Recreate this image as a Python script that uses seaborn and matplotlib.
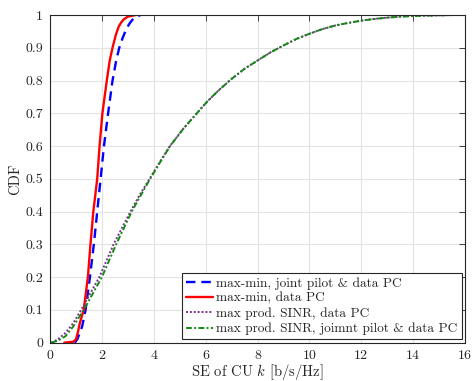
import matplotlib
matplotlib.use("Agg")
import matplotlib.pyplot as plt
import seaborn as sns
import pandas as pd

# CDF curves (SE values, CDF values)
mm_joint_x = [0.95, 1.05, 1.15, 1.24, 1.37, 1.54, 1.69, 1.82, 1.95, 2.08, 2.24, 2.41, 2.55, 2.67, 2.80, 2.93, 3.05, 3.15, 3.30, 3.50]
mm_joint_y = [0.0, 0.01, 0.03, 0.05, 0.10, 0.20, 0.30, 0.40, 0.50, 0.60, 0.70, 0.80, 0.86, 0.90, 0.93, 0.955, 0.972, 0.983, 0.995, 1.0]

mm_data_x = [0.55, 0.90, 1.00, 1.07, 1.15, 1.30, 1.46, 1.56, 1.67, 1.82, 1.91, 2.02, 2.19, 2.30, 2.41, 2.54, 2.65, 2.75, 2.85, 3.00, 3.30]
mm_data_y = [0.0, 0.003, 0.01, 0.03, 0.06, 0.10, 0.20, 0.30, 0.40, 0.50, 0.60, 0.70, 0.80, 0.86, 0.90, 0.94, 0.965, 0.978, 0.987, 0.995, 1.0]

prod_data_x = [0.05, 0.30, 0.60, 0.90, 1.20, 1.55, 1.90, 2.45, 3.10, 3.45, 3.84, 4.22, 4.62, 5.15, 5.66, 6.05, 6.50, 7.00, 7.50, 8.04, 8.50, 9.00, 9.50, 10.04, 10.50, 11.00, 11.50, 12.03, 12.50, 13.00, 13.50, 14.00, 14.50, 15.00, 15.60]
prod_data_y = [0.0, 0.01, 0.03, 0.06, 0.10, 0.15, 0.20, 0.30, 0.40, 0.45, 0.50, 0.55, 0.60, 0.654, 0.70, 0.735, 0.77, 0.805, 0.836, 0.863, 0.886, 0.907, 0.927, 0.944, 0.957, 0.968, 0.976, 0.983, 0.988, 0.992, 0.995, 0.997, 0.998, 0.999, 1.0]

prod_joint_x = [0.05, 0.30, 0.60, 0.90, 1.30, 1.65, 2.00, 2.55, 3.15, 3.50, 3.86, 4.24, 4.63, 5.15, 5.66, 6.05, 6.50, 7.00, 7.50, 8.04, 8.50, 9.00, 9.50, 10.04, 10.50, 11.00, 11.50, 12.03, 12.50, 13.00, 13.50, 14.00, 14.50, 15.00, 15.60]
prod_joint_y = [0.0, 0.006, 0.02, 0.05, 0.10, 0.15, 0.20, 0.30, 0.40, 0.45, 0.50, 0.55, 0.60, 0.654, 0.70, 0.735, 0.77, 0.805, 0.836, 0.863, 0.886, 0.907, 0.927, 0.944, 0.957, 0.968, 0.976, 0.983, 0.988, 0.992, 0.995, 0.997, 0.998, 0.999, 1.0]

labels = ["max-min, joint pilot & data PC",
          "max-min, data PC",
          "max prod. SINR, data PC",
          "max prod. SINR, joimnt pilot & data PC"]
x_ticks = [0, 2, 4, 6, 8, 10, 12, 14, 16]
y_ticks = [0, 0.1, 0.2, 0.3, 0.4, 0.5, 0.6, 0.7, 0.8, 0.9, 1.0]
y_tick_labels = ["0", "0.1", "0.2", "0.3", "0.4", "0.5", "0.6", "0.7", "0.8", "0.9", "1"]

sns.set_style("white")
plt.rcParams["font.family"] = ["cmr10", "DejaVu Serif"]
plt.rcParams["mathtext.fontset"] = "cm"
plt.rcParams["axes.formatter.use_mathtext"] = True

fig = plt.figure(figsize=(4.74, 3.81), dpi=100)
ax = fig.add_axes([0.1055, 0.1005, 0.8755, 0.8601])

styles = [
    dict(color="#0000ff", dashes=(4, 2.5), lw=1.7),
    dict(color="#ff0000", dashes=None, lw=1.7),
    dict(color="#7e2f8e", dashes=(1, 1), lw=1.4),
    dict(color="#138a13", dashes=(3, 1.2, 1, 1.2), lw=1.4),
]
series = [(mm_joint_x, mm_joint_y), (mm_data_x, mm_data_y),
          (prod_data_x, prod_data_y), (prod_joint_x, prod_joint_y)]

for (xs, ys), lab, st in zip(series, labels, styles):
    df = pd.DataFrame({"x": xs, "y": ys})
    sns.lineplot(data=df, x="x", y="y", ax=ax, label=lab, sort=False,
                 estimator=None, color=st["color"], lw=st["lw"])
    if st["dashes"] is not None:
        ax.lines[-1].set_dashes(st["dashes"])

ax.set_xlim(0, 16)
ax.set_ylim(0, 1)
ax.set_xticks(x_ticks)
ax.set_xticklabels([str(t) for t in x_ticks])
ax.set_yticks(y_ticks)
ax.set_yticklabels(y_tick_labels)
ax.grid(True, color="#e3e3e3", lw=0.8)
ax.set_axisbelow(True)
for s in ax.spines.values():
    s.set_color("#262626")
    s.set_linewidth(0.8)
ax.tick_params(direction="in", top=True, right=True, length=4, width=0.6,
               labelsize=10, colors="#262626", pad=5)
ax.set_xlabel(r"SE of CU $k$ [b/s/Hz]", fontsize=10.5, color="#262626", labelpad=0)
ax.set_ylabel("CDF", fontsize=10.5, color="#262626", labelpad=2)

leg = ax.legend(loc="lower right", fontsize=9.6, frameon=True, fancybox=False,
                edgecolor="#262626", framealpha=1, handlelength=2.0,
                handletextpad=0.25, borderpad=0.3, labelspacing=0.2,
                borderaxespad=0.25)
leg.get_frame().set_linewidth(0.8)

fig.savefig("out.png", dpi=100)
